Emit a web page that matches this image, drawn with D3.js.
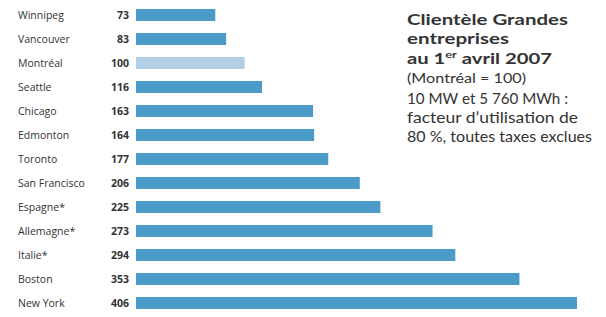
<!DOCTYPE html>
<html>
<head>
<meta charset="utf-8">
<script src="https://cdn.jsdelivr.net/npm/d3@7"></script>
<style>
  body { margin: 0; background: #fff; }
  text { font-family: "Open Sans", sans-serif; fill: #333; }
  .title text { font-family: Lato, "Open Sans", sans-serif; }
</style>
</head>
<body>
<script>
// data
const cities = ['Winnipeg', 'Vancouver', 'Montréal', 'Seattle', 'Chicago', 'Edmonton', 'Toronto',
                'San Francisco', 'Espagne*', 'Allemagne*', 'Italie*', 'Boston', 'New York'];
const values = [73, 83, 100, 116, 163, 164, 177, 206, 225, 273, 294, 353, 406];
const reference = 'Montréal';

const draw = () => {
    const width = 606, height = 317;

    const svg = d3.select('body')
        .append('svg')
        .attr('width', width)
        .attr('height', height);

    const rows = cities.map((c, i) => ({city: c, value: values[i]}));

    // scales
    const x = d3.scaleLinear()
        .domain([0, 406])
        .range([136, 577]);

    const y = d3.scaleBand()
        .domain(cities)
        .range([3, 315])
        .paddingInner(0.5)
        .paddingOuter(0.25);

    // bars
    svg.append('g')
        .selectAll('rect')
        .data(rows)
        .enter()
        .append('rect')
        .attr('x', x(0))
        .attr('y', d => y(d.city))
        .attr('width', d => x(d.value) - x(0))
        .attr('height', y.bandwidth())
        .attr('fill', d => d.city === reference ? '#b3cfe5' : '#4b9ac8');

    // city names
    svg.append('g')
        .selectAll('text')
        .data(rows)
        .enter()
        .append('text')
        .attr('x', 18)
        .attr('y', d => y(d.city) + y.bandwidth() / 2)
        .attr('dy', '0.35em')
        .style('font-size', '10.5px')
        .text(d => d.city);

    // values
    svg.append('g')
        .selectAll('text')
        .data(rows)
        .enter()
        .append('text')
        .attr('x', 129)
        .attr('y', d => y(d.city) + y.bandwidth() / 2)
        .attr('dy', '0.35em')
        .attr('text-anchor', 'end')
        .style('font-size', '10.5px')
        .style('font-weight', 'bold')
        .text(d => d.value);

    // title block
    const tx = 407;
    const title = svg.append('g').attr('class', 'title');
    title.append('text').attr('x', tx).attr('y', 25)
        .style('font-size', '16px').style('font-weight', 'bold')
        .attr('textLength', 161).attr('lengthAdjust', 'spacingAndGlyphs')
        .text('Clientèle Grandes');
    title.append('text').attr('x', tx).attr('y', 44.3)
        .style('font-size', '16px').style('font-weight', 'bold')
        .attr('textLength', 102).attr('lengthAdjust', 'spacingAndGlyphs')
        .text('entreprises');
    const l3 = title.append('text').attr('x', tx).attr('y', 63.6)
        .style('font-size', '16px').style('font-weight', 'bold')
        .attr('textLength', 145).attr('lengthAdjust', 'spacingAndGlyphs');
    l3.append('tspan').text('au 1');
    l3.append('tspan').attr('dy', -6).style('font-size', '10px').text('er');
    l3.append('tspan').attr('dy', 6).text(' avril 2007');
    title.append('text').attr('x', tx).attr('y', 83)
        .style('font-size', '14px')
        .attr('textLength', 119).attr('lengthAdjust', 'spacingAndGlyphs')
        .text('(Montréal = 100)');

    const notes = ['10 MW et 5 760 MWh :', 'facteur d’utilisation de', '80 %, toutes taxes exclues'];
    const noteWidths = [161, 171, 185];
    title.selectAll('.note')
        .data(notes)
        .enter()
        .append('text')
        .attr('class', 'note')
        .attr('x', tx)
        .attr('y', (d, i) => 104 + i * 19)
        .style('font-size', '15px')
        .attr('textLength', (d, i) => noteWidths[i])
        .attr('lengthAdjust', 'spacingAndGlyphs')
        .text(d => d);
}

draw();
</script>
</body>
</html>
